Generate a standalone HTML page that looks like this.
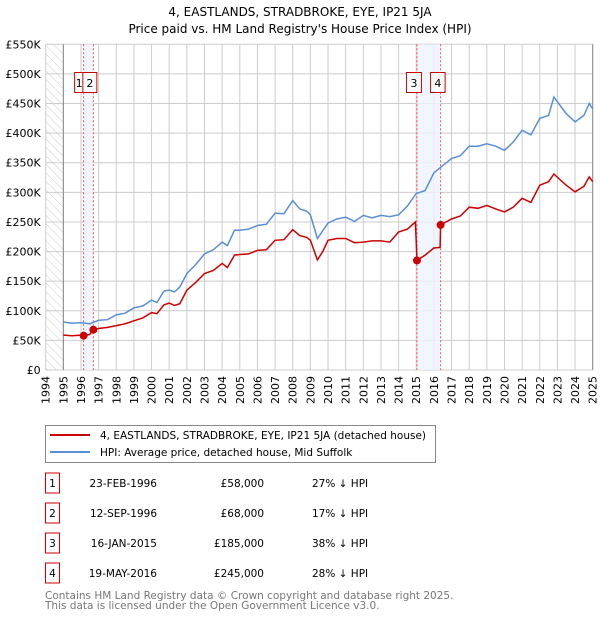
<!DOCTYPE html>
<html><head><meta charset="utf-8"><style>
body{margin:0;background:#fff;font-family:"DejaVu Sans","Liberation Sans",sans-serif;}
svg text{font-family:"DejaVu Sans","Liberation Sans",sans-serif;}
</style></head><body>
<svg id="chart" width="600" height="620" xmlns="http://www.w3.org/2000/svg">
<defs><pattern id="hatch" width="6" height="6" patternUnits="userSpaceOnUse" patternTransform="rotate(-45)"><line x1="0" y1="0" x2="0" y2="6" stroke="#ccc" stroke-width="1"/></pattern></defs>
<text x="300" y="16" text-anchor="middle" font-size="12">4, EASTLANDS, STRADBROKE, EYE, IP21 5JA</text>
<text x="300" y="33" text-anchor="middle" font-size="12">Price paid vs. HM Land Registry's House Price Index (HPI)</text>
<g id="grid"></g><g id="marks"></g><g id="axes"></g>
<g>
<rect x="45.5" y="425.5" width="390" height="37" fill="#fff" stroke="#888"/>
<line x1="50" y1="435" x2="90" y2="435" stroke="#cc0000" stroke-width="2"/>
<text x="100" y="439" font-size="10.5">4, EASTLANDS, STRADBROKE, EYE, IP21 5JA (detached house)</text>
<line x1="50" y1="452" x2="90" y2="452" stroke="#5b8fd4" stroke-width="2"/>
<text x="100" y="456" font-size="10.5">HPI: Average price, detached house, Mid Suffolk</text>
</g>
<g id="table" font-size="10.5"></g>
<text x="45" y="599" font-size="10.5" fill="#777">Contains HM Land Registry data © Crown copyright and database right 2025.</text>
<text x="45" y="609" font-size="10.5" fill="#777">This data is licensed under the Open Government Licence v3.0.</text>
</svg>
<script>
const yearTicks=[1994,1995,1996,1997,1998,1999,2000,2001,2002,2003,2004,2005,2006,2007,2008,2009,2010,2011,2012,2013,2014,2015,2016,2017,2018,2019,2020,2021,2022,2023,2024,2025];
const priceTicks=[0,50,100,150,200,250,300,350,400,450,500,550];
const priceTickLabels=["£0","£50K","£100K","£150K","£200K","£250K","£300K","£350K","£400K","£450K","£500K","£550K"];
const hpiYears=[1995,1995.5,1996,1996.5,1997,1997.5,1998,1998.5,1999,1999.5,2000,2000.3,2000.7,2001,2001.3,2001.6,2002,2002.5,2003,2003.5,2004,2004.3,2004.7,2005,2005.5,2006,2006.5,2007,2007.5,2008,2008.4,2008.8,2009,2009.4,2009.7,2010,2010.5,2011,2011.5,2012,2012.5,2013,2013.5,2014,2014.5,2015,2015.5,2016,2016.5,2017,2017.5,2018,2018.5,2019,2019.5,2020,2020.5,2021,2021.5,2022,2022.5,2022.8,2023.2,2023.5,2024,2024.5,2024.8,2025];
const hpiValues=[81,79,80,78,84,85,93,96,105,108,118,114,133,135,132,140,163,178,196,203,216,210,236,236,238,244,246,265,264,286,272,268,262,222,235,248,255,258,251,261,257,261,259,262,277,298,303,333,345,357,362,378,378,382,378,371,385,405,397,425,430,461,445,433,419,430,450,441];
const paidYears=[1995,1995.5,1996,1996.15,1996.5,1996.7,1997,1997.5,1998,1998.5,1999,1999.5,2000,2000.3,2000.7,2001,2001.3,2001.6,2002,2002.5,2003,2003.5,2004,2004.3,2004.7,2005,2005.5,2006,2006.5,2007,2007.5,2008,2008.4,2008.8,2009,2009.4,2009.7,2010,2010.5,2011,2011.5,2012,2012.5,2013,2013.5,2014,2014.5,2014.95,2015.04,2015.5,2016,2016.35,2016.38,2017,2017.5,2018,2018.5,2019,2019.5,2020,2020.5,2021,2021.5,2022,2022.5,2022.8,2023.2,2023.5,2024,2024.5,2024.8,2025];
const paidValues=[59,58,59,58,60,68,70,72,75,78,83,88,97,95,110,113,109,112,135,148,163,168,180,173,194,195,196,202,203,219,220,237,227,224,219,186,200,219,222,222,215,216,218,218,216,233,238,250,185,194,206,207,245,255,260,275,273,278,272,267,275,290,283,312,318,331,320,312,301,310,326,318];
const saleYears=[1996.15,1996.7,2015.04,2016.38];
const saleValues=[58,68,185,245];
const saleLabels=["1","2","3","4"];
const saleDates=["23-FEB-1996","12-SEP-1996","16-JAN-2015","19-MAY-2016"];
const salePrices=["£58,000","£68,000","£185,000","£245,000"];
const saleDiffs=["27% ↓ HPI","17% ↓ HPI","38% ↓ HPI","28% ↓ HPI"];

const NS="http://www.w3.org/2000/svg";
const L=45.7,R=592.7,T=44.3,B=370;
const x=y=>L+(y-1994)*(R-L)/31;
const yv=v=>B-v*(B-T)/550;
function mk(p,tag,attrs){const e=document.createElementNS(NS,tag);for(const k in attrs)e.setAttribute(k,attrs[k]);p.appendChild(e);return e;}
const grid=document.getElementById('grid'),marks=document.getElementById('marks'),axes=document.getElementById('axes'),table=document.getElementById('table');
mk(grid,'rect',{x:L,y:T,width:x(1995)-L,height:B-T,fill:'url(#hatch)'});
yearTicks.forEach(t=>{const l=mk(grid,'line',{x1:x(t),x2:x(t),y1:T,y2:B,stroke:'#ccc'});


const tx=mk(axes,'text',{x:0,y:0,'font-size':11,'text-anchor':'end',transform:`translate(${x(t)+4},${B+6}) rotate(-90)`});tx.textContent=t;

});
priceTicks.forEach((t,i)=>{const l=mk(grid,'line',{x1:L,x2:R,y1:yv(t),y2:yv(t),stroke:'#ccc'});


const tx=mk(axes,'text',{x:L-5,y:yv(t)+4,'font-size':11,'text-anchor':'end'});tx.textContent=priceTickLabels[i];

});
mk(grid,'line',{x1:x(1995),x2:x(1995),y1:T,y2:B,stroke:'#888'});
mk(grid,'line',{x1:R,x2:R,y1:T,y2:B,stroke:'#888'});
[[0,1],[2,3]].forEach(([a,b])=>{const s=mk(grid,'rect',{x:x(saleYears[a]),y:T,width:x(saleYears[b])-x(saleYears[a]),height:B-T,fill:'#eef3fc',opacity:0.8});

});
saleYears.forEach((s,i)=>{mk(grid,'line',{x1:x(s),x2:x(s),y1:T,y2:B,stroke:'#ee5555','stroke-dasharray':'2,2'});});
function path(xs,vs,col,name){const d=xs.map((t,i)=>(i?'L':'M')+x(t).toFixed(1)+','+yv(vs[i]).toFixed(1)).join('');
const p=mk(marks,'path',{d:d,fill:'none',stroke:col,'stroke-width':1.5});

}
path(hpiYears,hpiValues,'#5b8fd4','hpi-line');
path(paidYears,paidValues,'#cc0000','price-paid-line');
const boxOff=[-9,-10.5,-10.5,-10];
const boxW=[9,14,15,14.5];
saleYears.forEach((s,i)=>{const c=mk(marks,'circle',{cx:x(s),cy:yv(saleValues[i]),r:4,fill:'#cc0000'});


const bx=x(s)+boxOff[i];
const g=mk(marks,'g',{});


mk(g,'rect',{x:bx,y:72.5,width:boxW[i],height:20,fill:'#fff',stroke:'#cc0000'});
const t=mk(g,'text',{x:bx+boxW[i]/2,y:87,'font-size':11,'text-anchor':'middle'});t.textContent=saleLabels[i];});
saleLabels.forEach((lab,i)=>{const cy=483+i*30;
const g=mk(table,'g',{});


mk(g,'rect',{x:45.5,y:cy-10,width:14,height:20,fill:'#fff',stroke:'#cc0000'});
const a=mk(g,'text',{x:52.5,y:cy+4,'text-anchor':'middle'});a.textContent=lab;
const b=mk(g,'text',{x:157,y:cy+4,'text-anchor':'end'});b.textContent=saleDates[i];
const c=mk(g,'text',{x:264,y:cy+4,'text-anchor':'end'});c.textContent=salePrices[i];
const d=mk(g,'text',{x:312,y:cy+4});d.textContent=saleDiffs[i];});
</script>
</body></html>
